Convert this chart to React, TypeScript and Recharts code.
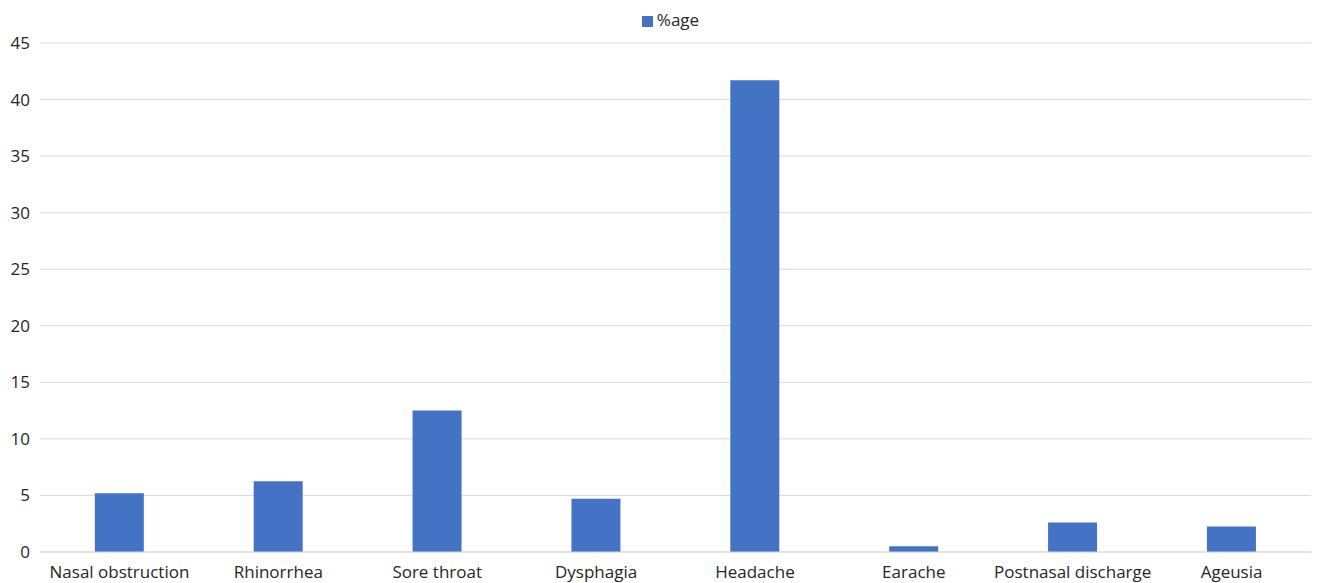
import { Bar, BarChart, CartesianGrid, Legend, XAxis, YAxis } from "recharts";

const symptoms = [
  "Nasal obstruction",
  "Rhinorrhea",
  "Sore throat",
  "Dysphagia",
  "Headache",
  "Earache",
  "Postnasal discharge",
  "Ageusia",
];
const percentages = [5.2, 6.25, 12.5, 4.7, 41.7, 0.5, 2.6, 2.25];
const yTicks = [0, 5, 10, 15, 20, 25, 30, 35, 40, 45];

const data = symptoms.map((name, i) => ({ name, pct: percentages[i] }));

const font = "'Open Sans', Lato, sans-serif";

/** Bar chart of symptom percentages */
function App() {
  return (
    <div style={{ position: "absolute", left: 0, top: 0, fontFamily: font }}>
      <BarChart
        width={1317}
        height={583}
        data={data}
        margin={{ top: 20, right: 6, bottom: 1, left: 0 }}
        barCategoryGap="34.5%"
      >
        <CartesianGrid vertical={false} stroke="#d9d9d9" />
        <XAxis
          dataKey="name"
          tickLine={false}
          axisLine={{ stroke: "#d9d9d9" }}
          tickMargin={8}
          height={30}
          interval={0}
          tick={{ fill: "#262626", fontSize: 17, fontFamily: font }}
        />
        <YAxis
          domain={[0, 45]}
          ticks={yTicks}
          width={40}
          tickLine={false}
          axisLine={false}
          tickMargin={4}
          tick={{ fill: "#262626", fontSize: 17, fontFamily: font }}
        />
        <Legend
          verticalAlign="top"
          align="center"
          iconType="square"
          iconSize={11}
          wrapperStyle={{ top: 8, paddingLeft: 20, fontSize: 17, fontFamily: font }}
          formatter={(value) => <span style={{ color: "#262626" }}>{value}</span>}
        />
        <Bar dataKey="pct" name="%age" fill="#4472c4" isAnimationActive={false} />
      </BarChart>
    </div>
  );
}

export default App;
